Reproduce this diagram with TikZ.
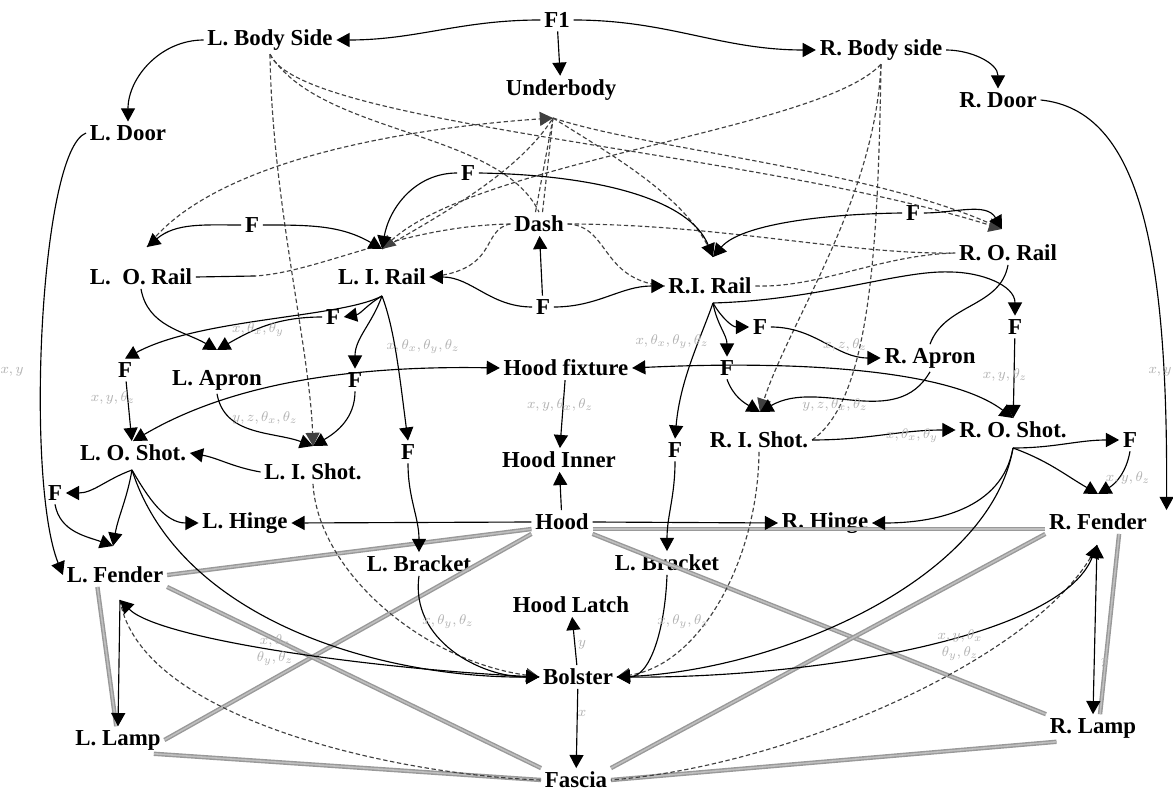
\documentclass[tikz,border=0pt]{standalone}
\usepackage{fontspec}
\setmainfont{Liberation Serif}
\usetikzlibrary{arrows.meta}
\tikzset{
  >={Triangle[length=7.5pt,width=8pt]},
  lbl/.style={font=\fontsize{13}{15}\selectfont\bfseries, inner sep=2pt},
  arr/.style={draw=black, line width=0.65pt, ->},
  ln/.style={draw=black, line width=0.65pt},
  dsh/.style={draw=black!75, line width=0.65pt, dash pattern=on 2.5pt off 1.5pt},
  gry/.style={draw=gray!80, line width=0.8pt, double=gray!50, double distance=0.9pt},
  glbl/.style={text=gray!60, font=\footnotesize, inner sep=0pt},
}
\begin{document}
\begin{tikzpicture}[x=0.02cm,y=-0.02cm]
   \useasboundingbox (0,0) rectangle (1173,793);
   % parts
   \node[lbl] (F1) at (557,20) {F1};
   \node[lbl] (lbs) at (270,40) {L. Body Side};
   \node[lbl] (rbs) at (881,50) {R. Body side};
   \node[lbl] (ub) at (561,90) {Underbody};
   \node[lbl] (ldoor) at (128,133) {L. Door};
   \node[lbl] (rdoor) at (998,100) {R. Door};
   \node[lbl] (fa) at (468,173) {F};
   \node[lbl] (flo) at (252,225) {F};
   \node[lbl] (dash) at (539,224) {Dash};
   \node[lbl] (fro) at (913,213) {F};
   \node[lbl] (lor) at (141,277) {L.\ \ O. Rail};
   \node[lbl] (lir) at (382,277) {L. I. Rail};
   \node[lbl] (fd) at (543,307) {F};
   \node[lbl] (rir) at (710,286) {R.I. Rail};
   \node[lbl] (ror) at (1008,253) {R. O. Rail};
   \node[lbl] (fl1) at (333,317) {F};
   \node[lbl] (fl2) at (125,370) {F};
   \node[lbl] (lap) at (217,380) {L. Apron};
   \node[lbl] (fl3) at (355,380) {F};
   \node[lbl] (hf) at (566,368) {Hood fixture};
   \node[lbl] (fr1) at (760,327) {F};
   \node[lbl] (fr2) at (727,368) {F};
   \node[lbl] (rap) at (930,358) {R. Apron};
   \node[lbl] (fr3) at (1015,327) {F};
   \node[lbl] (los) at (133,453) {L. O. Shot.};
   \node[lbl] (lis) at (313,472) {L. I. Shot.};
   \node[lbl] (flb) at (408,452) {F};
   \node[lbl] (hi) at (559,460) {Hood Inner};
   \node[lbl] (frb) at (675,450) {F};
   \node[lbl] (ris) at (759,440) {R. I. Shot.};
   \node[lbl] (ros) at (1013,430) {R. O. Shot.};
   \node[lbl] (fr4) at (1130,440) {F};
   \node[lbl] (fl4) at (55,493) {F};
   \node[lbl] (lh) at (245,523) {L. Hinge};
   \node[lbl] (hood) at (562,522) {Hood};
   \node[lbl] (rh) at (825,523) {R. Hinge};
   \node[lbl] (rf) at (1098,522) {R. Fender};
   \node[lbl] (lf) at (115,575) {L. Fender};
   \node[lbl] (lbr) at (419,564) {L. Bracket};
   \node[lbl] (rbr) at (667,563) {L. Bracket};
   \node[lbl] (hl) at (571,605) {Hood Latch};
   \node[lbl] (bol) at (578,677) {Bolster};
   \node[lbl] (ll) at (118,740) {L. Lamp};
   \node[lbl] (rl) at (1093,728) {R. Lamp};
   \node[lbl] (fas) at (576,780) {Fascia};
   % meeting points
   \coordinate (ubp) at (553,118);
   \coordinate (lird) at (382,249);
   \coordinate (rird) at (713,257);
   \coordinate (lord) at (147,247);
   \coordinate (rord) at (1002,229);
   \coordinate (lapd) at (217,350);
   \coordinate (lisd) at (313,446);
   \coordinate (lfd) at (113,546);
   \coordinate (rfd) at (1098,494);
   \coordinate (risd) at (760,412);
   \coordinate (lirb) at (382,296);
   \coordinate (rirb) at (713,303);
   \coordinate (losb) at (132,470);
   \coordinate (rosb) at (1013,448);
   \coordinate (lfs) at (120,600);
   \coordinate (rfs) at (1097,545);
   % grey double lines
   \draw[gry] ([yshift=-4pt]hood.west) -- (lf.east);
   \draw[gry] ([yshift=-4pt]hood.east) -- ([yshift=-4pt]rf.west);
   \draw[gry] (hood.south west) -- (ll.east);
   \draw[gry] (hood.south east) -- (rl.north west);
   \draw[gry] (lf.south east) -- (fas.north west);
   \draw[gry] (rf.south west) -- (fas.north east);
   \draw[gry] ([xshift=-6pt]ll.south east) -- (fas.west);
   \draw[gry] ([xshift=6pt]rl.south west) -- (fas.east);
   \draw[gry] ([xshift=-10pt]lf.south) -- ([xshift=-1pt]ll.north);
   \draw[gry] ([xshift=12pt]rf.south) -- ([xshift=4pt]rl.north);
   % dashed links
   \draw[dsh,->] (lbs.south) .. controls (272,200) and (310,350) .. (lisd);
   \draw[dsh,->] (lis.south) .. controls (318,570) and (420,660) .. (bol.west);
   \draw[dsh,->] (lbs.south) .. controls (300,125) and (750,150) .. (rord);
   \draw[dsh] (lbs.south) .. controls (320,135) and (500,130) .. (dash.north);
   \draw[dsh,->] (rbs.south) .. controls (820,130) and (480,160) .. (lird);
   \draw[dsh,->] (rbs.south) .. controls (875,200) and (790,320) .. (risd);
   \draw[dsh] (rbs.south) .. controls (878,250) and (870,400) .. (ris.east);
   \draw[dsh,->] (lord) .. controls (220,150) and (450,125) .. (ubp);
   \draw[dsh] (lird) .. controls (450,210) and (520,170) .. (ubp);
   \draw[dsh] ([xshift=-2pt]dash.north) -- (ubp);
   \draw[dsh] ([xshift=2pt]dash.north) -- (ubp);
   \draw[dsh] (ubp) .. controls (620,160) and (690,200) .. (rird);
   \draw[dsh] (ubp) .. controls (650,150) and (880,170) .. (rord);
   \draw[dsh] (dash.west) .. controls (480,230) and (500,270) .. (lir.east);
   \draw[dsh] (dash.west) .. controls (400,226) and (320,272) .. (255,276);
   \draw[ln] (lor.east) -- (255,276);
   \draw[dsh] (dash.east) .. controls (610,226) and (600,280) .. (rir.west);
   \draw[dsh] (dash.east) .. controls (720,224) and (850,255) .. (ror.west);
   \draw[dsh] (rir.east) .. controls (820,288) and (880,255) .. (ror.west);
   \draw[dsh,->] (ris.south) .. controls (758,560) and (700,665) .. (bol.east);
   \draw[dsh] (lfs) .. controls (140,720) and (400,775) .. (fas.west);
   \draw[dsh] (rfs) .. controls (1050,650) and (800,765) .. (fas.east);
   % top
   \draw[arr] (F1.west) to[out=180,in=0] (lbs.east);
   \draw[arr] (F1.east) to[out=0,in=180] (rbs.west);
   \draw[arr] (F1) -- (ub);
   \draw[arr] (lbs.west) to[out=180,in=90] (ldoor.north);
   \draw[arr] (rbs.east) to[out=0,in=90] (rdoor.north);
   \draw[arr] (ldoor.west) .. controls (40,150) and (25,480) .. (lf.west);
   \draw[arr] (rdoor.east) .. controls (1140,110) and (1168,250) .. ([xshift=9pt]rf.north east);
   \draw[arr] (fa.west) to[out=180,in=80] (lird);
   \draw[arr] (fa.east) .. controls (600,175) and (690,200) .. (rird);
   \draw[arr] (flo.west) to[out=180,in=40] (lord);
   \draw[arr] (flo.east) to[out=0,in=150] (lird);
   \draw[arr] (fro.east) to[out=0,in=120] (rord);
   \draw[arr] (fro.west) .. controls (820,214) and (740,225) .. (rird);
   \draw[arr] (fd) -- (dash);
   \draw[arr] (fd.west) to[out=180,in=0] (lir.east);
   \draw[arr] (fd.east) to[out=0,in=180] (rir.west);
   % left rails and shotguns
   \draw[arr] (lirb) to[out=-150,in=10] (fl1.east);
   \draw[arr] (lirb) .. controls (340,318) and (200,318) .. (fl2.north);
   \draw[arr] (lirb) to[out=-110,in=90] (fl3.north);
   \draw[arr] (lirb) .. controls (395,330) and (400,380) .. (flb.north);
   \draw[arr] (lor.south) to[out=-80,in=150] (lapd);
   \draw[arr] (fl1.west) to[out=180,in=30] (lapd);
   \draw[arr] (fl2) -- (los);
   \draw[arr] (lap.south) to[out=-80,in=160] (lisd);
   \draw[arr] (fl3.south) to[out=-90,in=30] (lisd);
   \draw[arr] (lis.west) to[out=170,in=-10] (los.east);
   \draw[arr,<->] (los.north) .. controls (220,390) and (330,365) .. (hf.west);
   \draw[arr] (losb) to[out=-160,in=0] (fl4.east);
   \draw[arr] (losb) to[out=-60,in=180] (lh.west);
   \draw[arr] (losb) to[out=-100,in=80] (lfd);
   \draw[arr] (fl4.south) to[out=-80,in=160] (lfd);
   \draw[arr] (losb) .. controls (180,620) and (380,678) .. (bol.west);
   \draw[arr] (bol.west) .. controls (380,670) and (160,640) .. (lfs);
   \draw[arr] (lfs) -- (ll.north);
   % hood
   \draw[arr] (hood.west) -- (lh.east);
   \draw[arr] (hood) -- (hi);
   \draw[arr] (hood.east) -- (rh.west);
   \draw[arr] (hf) -- (hi);
   \draw[arr] (flb.south) to[out=-90,in=90] (lbr.north);
   \draw[arr] (frb.south) to[out=-90,in=90] (rbr.north);
   \draw[arr] (lbr.south) .. controls (410,640) and (480,677) .. (bol.west);
   \draw[arr] (rbr.south) .. controls (665,630) and (650,677) .. (bol.east);
   \draw[arr] (bol) -- (hl);
   \draw[arr] (bol) -- (fas);
   % right rails and shotguns
   \draw[arr] (rirb) to[out=-60,in=180] (fr1.west);
   \draw[arr] (rirb) to[out=-80,in=90] (fr2.north);
   \draw[arr] (rirb) .. controls (700,340) and (680,380) .. (frb.north);
   \draw[arr] (rirb) .. controls (820,300) and (900,270) .. (950,272) to[out=0,in=90] (fr3.north);
   \draw[ln] (ror.south) to[out=-100,in=70] (rap.north);
   \draw[arr] (fr1.east) to[out=0,in=180] (rap.west);
   \draw[arr] (fr2.south) to[out=-70,in=150] (risd);
   \draw[arr] (rap.south) to[out=-120,in=30] (risd);
   \draw[arr] (fr3) -- (ros);
   \draw[arr,<->] (hf.east) .. controls (800,360) and (950,370) .. (ros.north);
   \draw[arr] (ris.east) to[out=0,in=180] (ros.west);
   \draw[arr] (rosb) to[out=0,in=180] (fr4.west);
   \draw[arr] (rosb) to[out=-20,in=150] (rfd);
   \draw[arr] (fr4.south) to[out=-100,in=30] (rfd);
   \draw[arr] (rosb) to[out=-100,in=0] (rh.east);
   \draw[arr] (rosb) .. controls (990,580) and (780,670) .. (bol.east);
   \draw[arr] (bol.east) .. controls (800,680) and (1060,640) .. (rfs);
   \draw[arr,<->] (rfs) -- (rl.north);
   % grey freedoms
   \node[glbl] at (12,372) {$x,y$};
   \node[glbl] at (1160,372) {$x,y$};
   \node[glbl] at (423,347) {$x,\theta_x,\theta_y,\theta_z$};
   \node[glbl] at (672,342) {$x,\theta_x,\theta_y,\theta_z$};
   \node[glbl] at (560,405) {$x,y,\theta_x,\theta_z$};
   \node[glbl] at (448,622) {$x,\theta_y,\theta_z$};
   \node[glbl] at (683,622) {$x,\theta_y,\theta_z$};
   \node[glbl] at (1105,663) {$y$};
   \node[glbl] at (113,398) {$x,y,\theta_z$};
   \node[glbl] at (1005,375) {$x,y,\theta_z$};
   \node[glbl] at (912,436) {$x,\theta_x,\theta_y$};
   \node[glbl] at (265,418) {$y,z,\theta_x,\theta_z$};
   \node[glbl] at (1128,478) {$x,y,\theta_z$};
   \node[glbl] at (258,330) {$x,\theta_x,\theta_y$};
   \node[glbl] at (845,345) {$x,z,\theta_z$};
   \node[glbl] at (835,405) {$y,z,\theta_x,\theta_z$};
   \node[glbl] at (582,645) {$y$};
   \node[glbl] at (582,713) {$x$};
   \node[glbl,align=center] at (275,650) {$x,\theta_x$\\$\theta_y,\theta_z$};
   \node[glbl,align=center] at (960,645) {$x,y,\theta_x$\\$\theta_y,\theta_z$};
\end{tikzpicture}
\end{document}
